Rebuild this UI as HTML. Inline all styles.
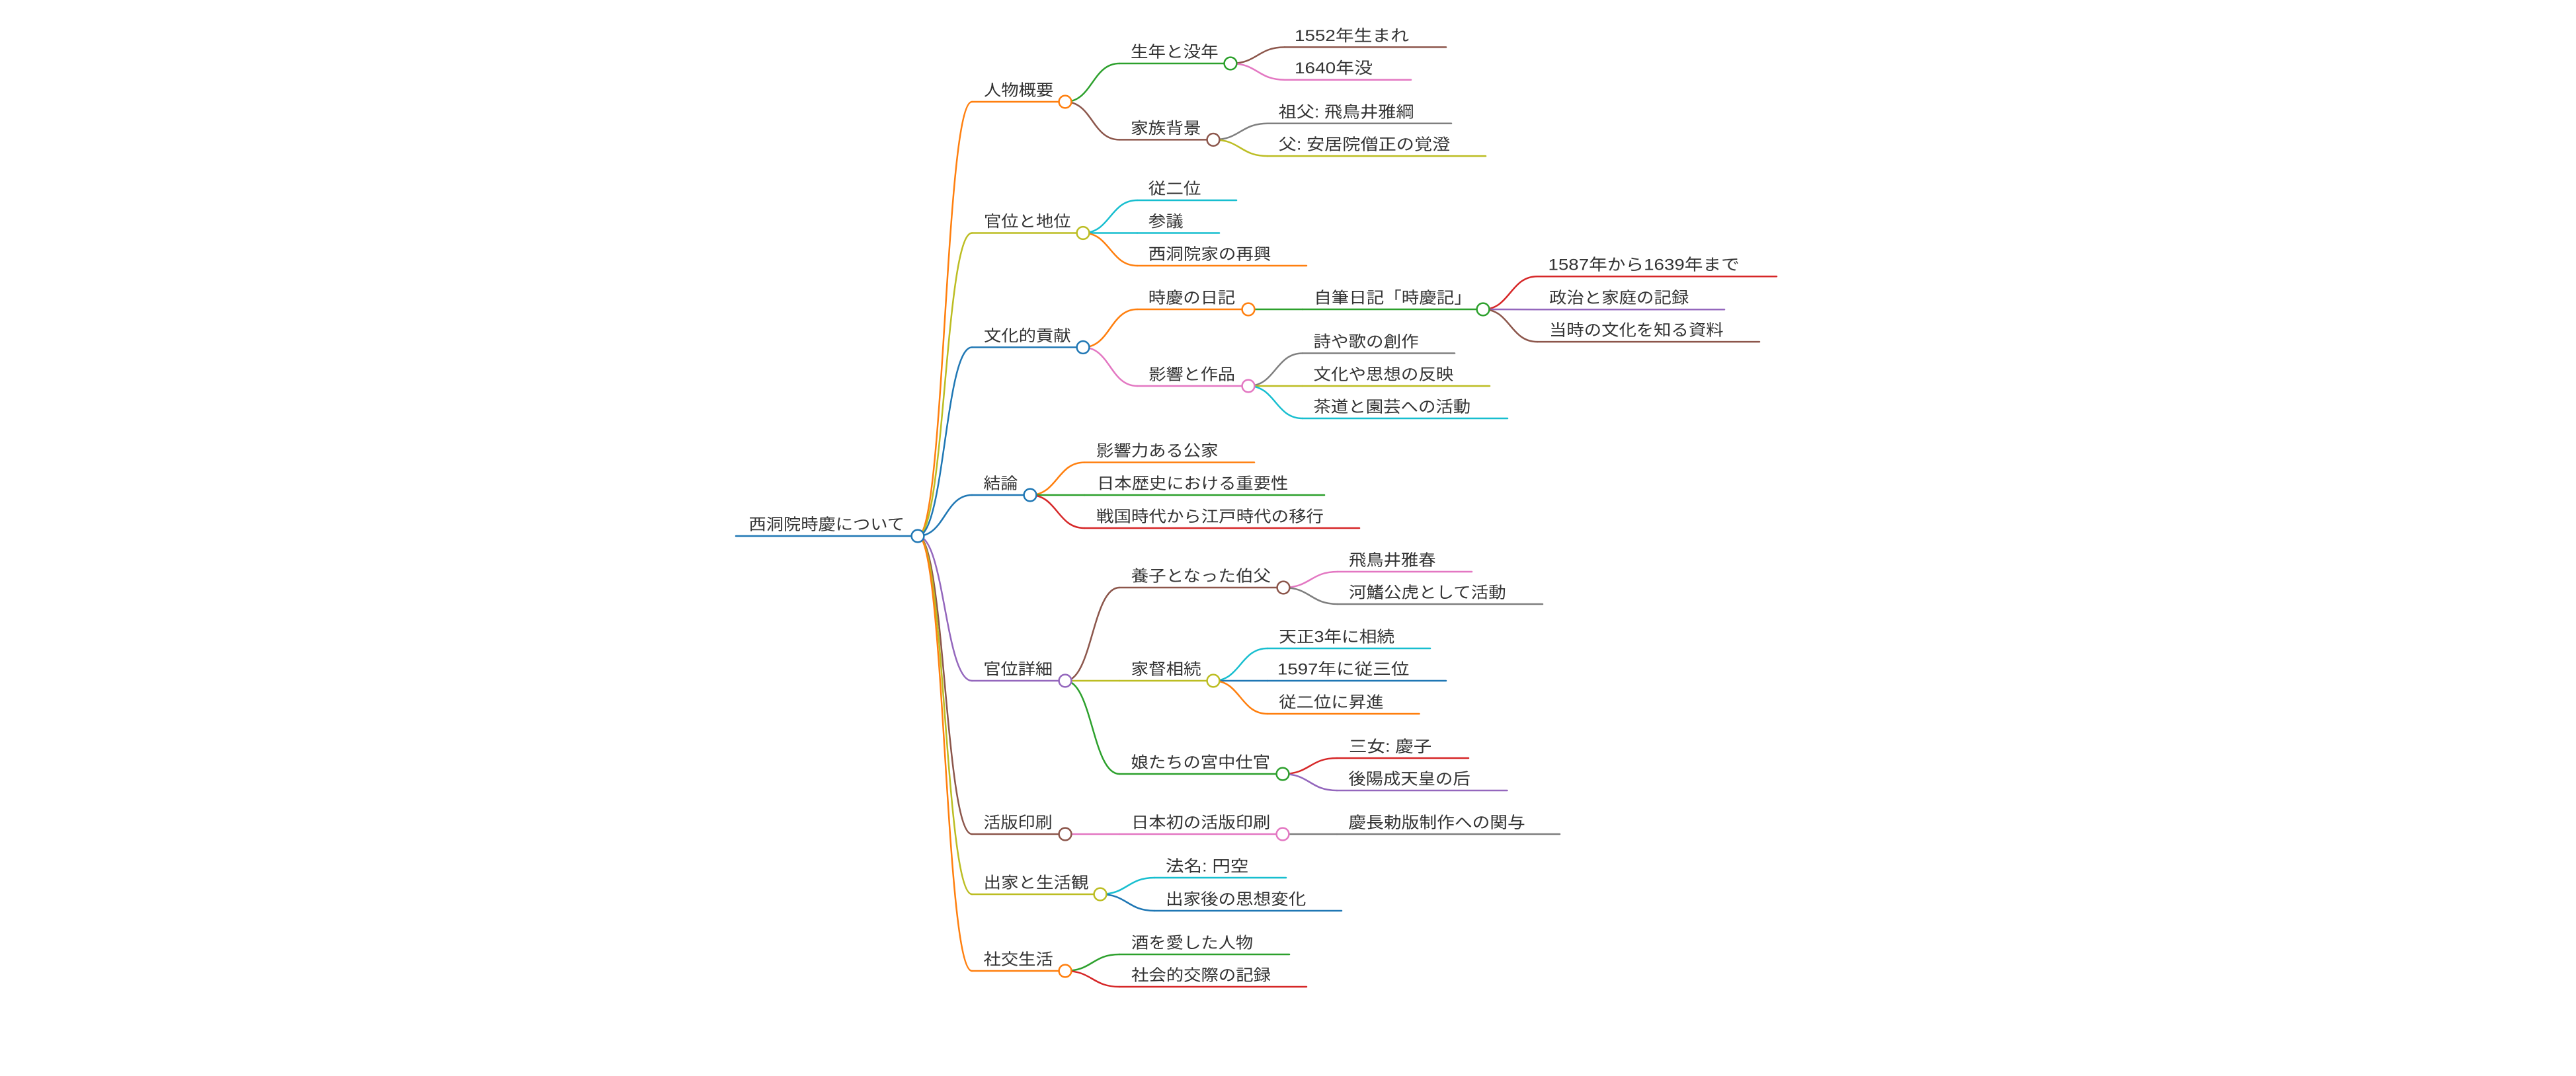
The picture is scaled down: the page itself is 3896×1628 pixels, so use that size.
<!DOCTYPE html>
<html>
<head>
<meta charset="utf-8">
<style>
html,body{margin:0;padding:0;background:#fff;}
svg{display:block;}
text{font-family:"Liberation Sans","Noto Sans CJK JP",sans-serif;font-size:24px;fill:#333;}
.l{fill:none;stroke-width:2.5;stroke-linecap:round;}
.c{fill:#fff;stroke-width:2.5;}
</style>
</head>
<body>
<svg width="3896" height="1628" viewBox="0 0 3896 1628" xmlns="http://www.w3.org/2000/svg">
<rect width="3896" height="1628" fill="#fff"/>
<!-- links -->
<g class="links">
<path class="l" stroke="#ff7f0e" d="M1388,811 C1429,811 1429,154 1470,154"/>
<path class="l" stroke="#bcbd22" d="M1388,811 C1429,811 1429,352.5 1470,352.5"/>
<path class="l" stroke="#1f77b4" d="M1388,811 C1429,811 1429,525.5 1470,525.5"/>
<path class="l" stroke="#1f77b4" d="M1388,811 C1429,811 1429,749 1470,749"/>
<path class="l" stroke="#9467bd" d="M1388,811 C1429,811 1429,1030 1470,1030"/>
<path class="l" stroke="#8c564b" d="M1388,811 C1429,811 1429,1262 1470,1262"/>
<path class="l" stroke="#bcbd22" d="M1388,811 C1429,811 1429,1353 1470,1353"/>
<path class="l" stroke="#ff7f0e" d="M1388,811 C1429,811 1429,1469 1470,1469"/>

<path class="l" stroke="#2ca02c" d="M1611,154 C1652,154 1652,96 1693,96"/>
<path class="l" stroke="#8c564b" d="M1611,154 C1652,154 1652,211.4 1693,211.4"/>

<path class="l" stroke="#17becf" d="M1638,352.5 C1679,352.5 1679,303 1720,303"/>
<path class="l" stroke="#17becf" d="M1638,352.5 C1679,352.5 1679,352.5 1720,352.5"/>
<path class="l" stroke="#ff7f0e" d="M1638,352.5 C1679,352.5 1679,402 1720,402"/>

<path class="l" stroke="#ff7f0e" d="M1638,525.5 C1679,525.5 1679,468 1720,468"/>
<path class="l" stroke="#e377c2" d="M1638,525.5 C1679,525.5 1679,584 1720,584"/>

<path class="l" stroke="#ff7f0e" d="M1558,749 C1599,749 1599,699.6 1640,699.6"/>
<path class="l" stroke="#2ca02c" d="M1558,749 C1599,749 1599,749 1640,749"/>
<path class="l" stroke="#d62728" d="M1558,749 C1599,749 1599,799 1640,799"/>

<path class="l" stroke="#8c564b" d="M1611,1030 C1652,1030 1652,889 1693,889"/>
<path class="l" stroke="#bcbd22" d="M1611,1030 C1652,1030 1652,1030 1693,1030"/>
<path class="l" stroke="#2ca02c" d="M1611,1030 C1652,1030 1652,1171 1693,1171"/>

<path class="l" stroke="#e377c2" d="M1611,1262 C1652,1262 1652,1262 1693,1262"/>

<path class="l" stroke="#17becf" d="M1664,1353 C1705,1353 1705,1328 1746,1328"/>
<path class="l" stroke="#1f77b4" d="M1664,1353 C1705,1353 1705,1378 1746,1378"/>

<path class="l" stroke="#2ca02c" d="M1611,1469 C1652,1469 1652,1444 1693,1444"/>
<path class="l" stroke="#d62728" d="M1611,1469 C1652,1469 1652,1493 1693,1493"/>

<path class="l" stroke="#8c564b" d="M1861,96 C1902,96 1902,71.4 1943,71.4"/>
<path class="l" stroke="#e377c2" d="M1861,96 C1902,96 1902,120.7 1943,120.7"/>

<path class="l" stroke="#7f7f7f" d="M1835,211.4 C1876,211.4 1876,186.8 1917,186.8"/>
<path class="l" stroke="#bcbd22" d="M1835,211.4 C1876,211.4 1876,236.1 1917,236.1"/>

<path class="l" stroke="#2ca02c" d="M1888,468 C1929,468 1929,468 1970,468"/>

<path class="l" stroke="#7f7f7f" d="M1888,584 C1929,584 1929,534.5 1970,534.5"/>
<path class="l" stroke="#bcbd22" d="M1888,584 C1929,584 1929,584 1970,584"/>
<path class="l" stroke="#17becf" d="M1888,584 C1929,584 1929,633 1970,633"/>

<path class="l" stroke="#e377c2" d="M1941,889 C1982,889 1982,865 2023,865"/>
<path class="l" stroke="#7f7f7f" d="M1941,889 C1982,889 1982,914 2023,914"/>

<path class="l" stroke="#17becf" d="M1835,1030 C1876,1030 1876,981 1917,981"/>
<path class="l" stroke="#1f77b4" d="M1835,1030 C1876,1030 1876,1030 1917,1030"/>
<path class="l" stroke="#ff7f0e" d="M1835,1030 C1876,1030 1876,1080 1917,1080"/>

<path class="l" stroke="#d62728" d="M1940,1171 C1981,1171 1981,1147 2022,1147"/>
<path class="l" stroke="#9467bd" d="M1940,1171 C1981,1171 1981,1196 2022,1196"/>

<path class="l" stroke="#7f7f7f" d="M1940,1262 C1981,1262 1981,1262 2022,1262"/>

<path class="l" stroke="#d62728" d="M2243,468 C2284,468 2284,418.2 2325,418.2"/>
<path class="l" stroke="#9467bd" d="M2243,468 C2284,468 2284,468.2 2325,468.2"/>
<path class="l" stroke="#8c564b" d="M2243,468 C2284,468 2284,517.1 2325,517.1"/>
</g>

<!-- node underlines -->
<g class="lines">
<line class="l" stroke="#1f77b4" stroke-width="3.2" x1="1113" y1="811" x2="1388" y2="811"/>
<line class="l" stroke="#ff7f0e" x1="1470" y1="154" x2="1611" y2="154"/>
<line class="l" stroke="#bcbd22" x1="1470" y1="352.5" x2="1638" y2="352.5"/>
<line class="l" stroke="#1f77b4" x1="1470" y1="525.5" x2="1638" y2="525.5"/>
<line class="l" stroke="#1f77b4" x1="1470" y1="749" x2="1558" y2="749"/>
<line class="l" stroke="#9467bd" x1="1470" y1="1030" x2="1611" y2="1030"/>
<line class="l" stroke="#8c564b" x1="1470" y1="1262" x2="1611" y2="1262"/>
<line class="l" stroke="#bcbd22" x1="1470" y1="1353" x2="1664" y2="1353"/>
<line class="l" stroke="#ff7f0e" x1="1470" y1="1469" x2="1611" y2="1469"/>

<line class="l" stroke="#2ca02c" x1="1693" y1="96" x2="1861" y2="96"/>
<line class="l" stroke="#8c564b" x1="1693" y1="211.4" x2="1835" y2="211.4"/>
<line class="l" stroke="#17becf" x1="1720" y1="303" x2="1870" y2="303"/>
<line class="l" stroke="#17becf" x1="1720" y1="352.5" x2="1844" y2="352.5"/>
<line class="l" stroke="#ff7f0e" x1="1720" y1="402" x2="1976" y2="402"/>
<line class="l" stroke="#ff7f0e" x1="1720" y1="468" x2="1888" y2="468"/>
<line class="l" stroke="#e377c2" x1="1720" y1="584" x2="1888" y2="584"/>
<line class="l" stroke="#ff7f0e" x1="1640" y1="699.6" x2="1897" y2="699.6"/>
<line class="l" stroke="#2ca02c" x1="1640" y1="749" x2="2003" y2="749"/>
<line class="l" stroke="#d62728" x1="1640" y1="799" x2="2056" y2="799"/>
<line class="l" stroke="#8c564b" x1="1693" y1="889" x2="1941" y2="889"/>
<line class="l" stroke="#bcbd22" x1="1693" y1="1030" x2="1835" y2="1030"/>
<line class="l" stroke="#2ca02c" x1="1693" y1="1171" x2="1940" y2="1171"/>
<line class="l" stroke="#e377c2" x1="1693" y1="1262" x2="1940" y2="1262"/>
<line class="l" stroke="#17becf" x1="1746" y1="1328" x2="1945" y2="1328"/>
<line class="l" stroke="#1f77b4" x1="1746" y1="1378" x2="2029" y2="1378"/>
<line class="l" stroke="#2ca02c" x1="1693" y1="1444" x2="1950" y2="1444"/>
<line class="l" stroke="#d62728" x1="1693" y1="1493" x2="1976" y2="1493"/>

<line class="l" stroke="#8c564b" x1="1943" y1="71.4" x2="2187" y2="71.4"/>
<line class="l" stroke="#e377c2" x1="1943" y1="120.7" x2="2134" y2="120.7"/>
<line class="l" stroke="#7f7f7f" x1="1917" y1="186.8" x2="2195" y2="186.8"/>
<line class="l" stroke="#bcbd22" x1="1917" y1="236.1" x2="2247" y2="236.1"/>
<line class="l" stroke="#2ca02c" x1="1970" y1="468" x2="2243" y2="468"/>
<line class="l" stroke="#d62728" x1="2325" y1="418.2" x2="2687" y2="418.2"/>
<line class="l" stroke="#9467bd" x1="2325" y1="468.2" x2="2608" y2="468.2"/>
<line class="l" stroke="#8c564b" x1="2325" y1="517.1" x2="2661" y2="517.1"/>
<line class="l" stroke="#7f7f7f" x1="1970" y1="534.5" x2="2200" y2="534.5"/>
<line class="l" stroke="#bcbd22" x1="1970" y1="584" x2="2253" y2="584"/>
<line class="l" stroke="#17becf" x1="1970" y1="633" x2="2280" y2="633"/>
<line class="l" stroke="#e377c2" x1="2023" y1="865" x2="2226" y2="865"/>
<line class="l" stroke="#7f7f7f" x1="2023" y1="914" x2="2333" y2="914"/>
<line class="l" stroke="#17becf" x1="1917" y1="981" x2="2163" y2="981"/>
<line class="l" stroke="#1f77b4" x1="1917" y1="1030" x2="2187" y2="1030"/>
<line class="l" stroke="#ff7f0e" x1="1917" y1="1080" x2="2146.5" y2="1080"/>
<line class="l" stroke="#d62728" x1="2022" y1="1147" x2="2221" y2="1147"/>
<line class="l" stroke="#9467bd" x1="2022" y1="1196" x2="2279.5" y2="1196"/>
<line class="l" stroke="#7f7f7f" x1="2022" y1="1262" x2="2359" y2="1262"/>
</g>

<!-- circles -->
<g class="circles">
<circle class="c" stroke="#1f77b4" cx="1388" cy="811" r="9.4"/>
<circle class="c" stroke="#ff7f0e" cx="1611" cy="154" r="9.4"/>
<circle class="c" stroke="#bcbd22" cx="1638" cy="352.5" r="9.4"/>
<circle class="c" stroke="#1f77b4" cx="1638" cy="525.5" r="9.4"/>
<circle class="c" stroke="#1f77b4" cx="1558" cy="749" r="9.4"/>
<circle class="c" stroke="#9467bd" cx="1611" cy="1030" r="9.4"/>
<circle class="c" stroke="#8c564b" cx="1611" cy="1262" r="9.4"/>
<circle class="c" stroke="#bcbd22" cx="1664" cy="1353" r="9.4"/>
<circle class="c" stroke="#ff7f0e" cx="1611" cy="1469" r="9.4"/>
<circle class="c" stroke="#2ca02c" cx="1861" cy="96" r="9.4"/>
<circle class="c" stroke="#8c564b" cx="1835" cy="211.4" r="9.4"/>
<circle class="c" stroke="#ff7f0e" cx="1888" cy="468" r="9.4"/>
<circle class="c" stroke="#e377c2" cx="1888" cy="584" r="9.4"/>
<circle class="c" stroke="#8c564b" cx="1941" cy="889" r="9.4"/>
<circle class="c" stroke="#bcbd22" cx="1835" cy="1030" r="9.4"/>
<circle class="c" stroke="#2ca02c" cx="1940" cy="1171" r="9.4"/>
<circle class="c" stroke="#e377c2" cx="1940" cy="1262" r="9.4"/>
<circle class="c" stroke="#2ca02c" cx="2243" cy="468" r="9.4"/>
</g>

<!-- labels -->
<g class="labels">
<text x="1132.5" y="801.5" textLength="235.5" lengthAdjust="spacingAndGlyphs">西洞院時慶について</text>
<text x="1488" y="144.5" textLength="105.3" lengthAdjust="spacingAndGlyphs">人物概要</text>
<text x="1488" y="343" textLength="131.5" lengthAdjust="spacingAndGlyphs">官位と地位</text>
<text x="1488" y="516" textLength="131.5" lengthAdjust="spacingAndGlyphs">文化的貢献</text>
<text x="1487.4" y="739.5" textLength="52" lengthAdjust="spacingAndGlyphs">結論</text>
<text x="1487.4" y="1020.5" textLength="104.6" lengthAdjust="spacingAndGlyphs">官位詳細</text>
<text x="1487.5" y="1252.5" textLength="104.1" lengthAdjust="spacingAndGlyphs">活版印刷</text>
<text x="1487.5" y="1343.5" textLength="159" lengthAdjust="spacingAndGlyphs">出家と生活観</text>
<text x="1487.5" y="1459.5" textLength="105.3" lengthAdjust="spacingAndGlyphs">社交生活</text>

<text x="1710" y="86.5" textLength="132.7" lengthAdjust="spacingAndGlyphs">生年と没年</text>
<text x="1710" y="202" textLength="106.5" lengthAdjust="spacingAndGlyphs">家族背景</text>
<text x="1736.8" y="293.5" textLength="79.7" lengthAdjust="spacingAndGlyphs">従二位</text>
<text x="1736.8" y="343" textLength="53" lengthAdjust="spacingAndGlyphs">参議</text>
<text x="1736.8" y="392.5" textLength="185.6" lengthAdjust="spacingAndGlyphs">西洞院家の再興</text>
<text x="1736.8" y="458.5" textLength="131.4" lengthAdjust="spacingAndGlyphs">時慶の日記</text>
<text x="1737.4" y="574.5" textLength="130.6" lengthAdjust="spacingAndGlyphs">影響と作品</text>
<text x="1658" y="690" textLength="184.5" lengthAdjust="spacingAndGlyphs">影響力ある公家</text>
<text x="1659" y="739.5" textLength="289.3" lengthAdjust="spacingAndGlyphs">日本歴史における重要性</text>
<text x="1658" y="789.5" textLength="344" lengthAdjust="spacingAndGlyphs">戦国時代から江戸時代の移行</text>
<text x="1710.6" y="879.5" textLength="211.4" lengthAdjust="spacingAndGlyphs">養子となった伯父</text>
<text x="1710.6" y="1020.5" textLength="106" lengthAdjust="spacingAndGlyphs">家督相続</text>
<text x="1710.6" y="1161.5" textLength="210.4" lengthAdjust="spacingAndGlyphs">娘たちの宮中仕官</text>
<text x="1711" y="1252.5" textLength="210.3" lengthAdjust="spacingAndGlyphs">日本初の活版印刷</text>
<text x="1763" y="1318.5" textLength="125.4" lengthAdjust="spacingAndGlyphs">法名: 円空</text>
<text x="1763" y="1368.5" textLength="212.3" lengthAdjust="spacingAndGlyphs">出家後の思想変化</text>
<text x="1711" y="1434.5" textLength="184.2" lengthAdjust="spacingAndGlyphs">酒を愛した人物</text>
<text x="1711" y="1483.5" textLength="211" lengthAdjust="spacingAndGlyphs">社会的交際の記録</text>

<text x="1958" y="62" textLength="173" lengthAdjust="spacingAndGlyphs">1552年生まれ</text>
<text x="1958" y="111" textLength="118" lengthAdjust="spacingAndGlyphs">1640年没</text>
<text x="1933.7" y="177.3" textLength="204.8" lengthAdjust="spacingAndGlyphs">祖父: 飛鳥井雅綱</text>
<text x="1933.7" y="226.6" textLength="259.6" lengthAdjust="spacingAndGlyphs">父: 安居院僧正の覚澄</text>
<text x="1987.3" y="458.5" textLength="238.5" lengthAdjust="spacingAndGlyphs">自筆日記「時慶記」</text>
<text x="2341.5" y="408.7" textLength="289.3" lengthAdjust="spacingAndGlyphs">1587年から1639年まで</text>
<text x="2343" y="458.7" textLength="211.3" lengthAdjust="spacingAndGlyphs">政治と家庭の記録</text>
<text x="2343" y="507.6" textLength="263.6" lengthAdjust="spacingAndGlyphs">当時の文化を知る資料</text>
<text x="1986.5" y="525" textLength="159.1" lengthAdjust="spacingAndGlyphs">詩や歌の創作</text>
<text x="1986.5" y="574.5" textLength="211.8" lengthAdjust="spacingAndGlyphs">文化や思想の反映</text>
<text x="1986.5" y="623.5" textLength="237.7" lengthAdjust="spacingAndGlyphs">茶道と園芸への活動</text>
<text x="2040" y="855.5" textLength="131.5" lengthAdjust="spacingAndGlyphs">飛鳥井雅春</text>
<text x="2040" y="904.5" textLength="237.8" lengthAdjust="spacingAndGlyphs">河鰭公虎として活動</text>
<text x="1934.3" y="971.5" textLength="174.7" lengthAdjust="spacingAndGlyphs">天正3年に相続</text>
<text x="1932" y="1020.5" textLength="199.4" lengthAdjust="spacingAndGlyphs">1597年に従三位</text>
<text x="1934.3" y="1070.5" textLength="158.2" lengthAdjust="spacingAndGlyphs">従二位に昇進</text>
<text x="2040" y="1137.5" textLength="125.3" lengthAdjust="spacingAndGlyphs">三女: 慶子</text>
<text x="2039.4" y="1186.5" textLength="184.2" lengthAdjust="spacingAndGlyphs">後陽成天皇の后</text>
<text x="2039.4" y="1252.5" textLength="267.4" lengthAdjust="spacingAndGlyphs">慶長勅版制作への関与</text>
</g>
</svg>
</body>
</html>
